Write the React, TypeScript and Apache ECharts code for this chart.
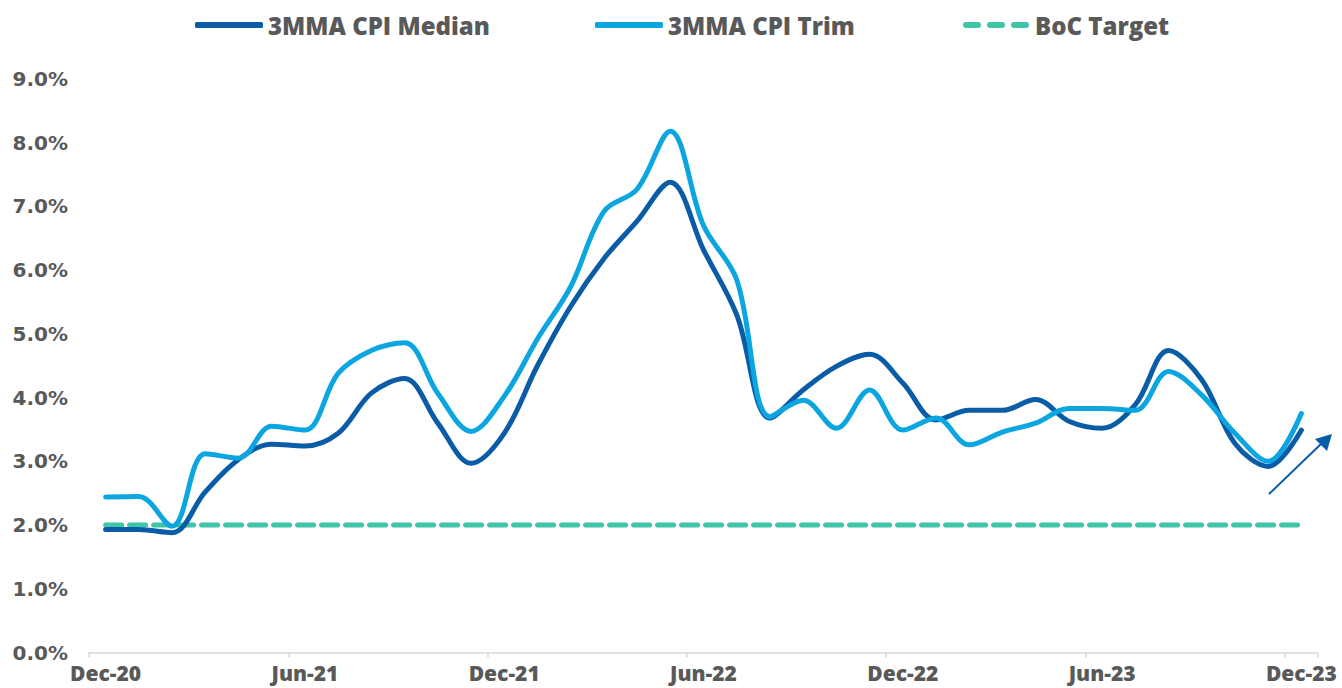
import React, { useEffect, useRef } from "react";
import * as echarts from "echarts";

const categories = [
  "Dec-20", "Jan-21", "Feb-21", "Mar-21", "Apr-21", "May-21", "Jun-21", "Jul-21", "Aug-21", "Sep-21", "Oct-21", "Nov-21",
  "Dec-21", "Jan-22", "Feb-22", "Mar-22", "Apr-22", "May-22", "Jun-22", "Jul-22", "Aug-22", "Sep-22", "Oct-22", "Nov-22",
  "Dec-22", "Jan-23", "Feb-23", "Mar-23", "Apr-23", "May-23", "Jun-23", "Jul-23", "Aug-23", "Sep-23", "Oct-23", "Nov-23",
  "Dec-23",
];

const cpiMedian = [
  1.93, 1.93, 1.88, 2.52, 3.03, 3.27, 3.24, 3.44, 4.07, 4.3, 3.6, 2.97,
  3.44, 4.5, 5.43, 6.18, 6.77, 7.38, 6.32, 5.3, 3.68, 4.12, 4.49, 4.68,
  4.23, 3.65, 3.8, 3.8, 3.97, 3.63, 3.52, 3.89, 4.74, 4.28, 3.28, 2.92,
  3.49,
];

const cpiTrim = [
  2.44, 2.45, 1.98, 3.12, 3.05, 3.55, 3.49, 4.38, 4.74, 4.86, 4.07, 3.47,
  4.02, 4.92, 5.74, 6.92, 7.27, 8.18, 6.7, 5.85, 3.7, 3.96, 3.52, 4.12,
  3.49, 3.68, 3.26, 3.46, 3.6, 3.83, 3.83, 3.8, 4.41, 4.04, 3.44, 3.0,
  3.75,
];

const bocTarget = categories.map(() => 2.0);

const C_MEDIAN = "#0A5CA6";
const C_TRIM = "#0BA5E0";
const C_TARGET = "#3EC4A6";
const C_TEXT = "#595959";

const DASH_ICON =
  "path://M3,0h12a3,3 0 0 1 0,6h-12a3,3 0 0 1 0,-6z M27,0h12a3,3 0 0 1 0,6h-12a3,3 0 0 1 0,-6z M51,0h12a3,3 0 0 1 0,6h-12a3,3 0 0 1 0,-6z";

export default function App() {
  const ref = useRef<HTMLDivElement>(null);
  useEffect(() => {
    if (!ref.current) return;
    const chart = echarts.init(ref.current, null, { renderer: "svg" });
    const legendText = {
      fontFamily: "Open Sans",
      fontWeight: 800,
      fontSize: 24,
      color: C_TEXT,
    };
    const legendBase = {
      top: 8,
      itemWidth: 68,
      itemHeight: 6,
      textStyle: legendText,
      selectedMode: false,
    };
    chart.setOption({
      animation: false,
      backgroundColor: "#ffffff",
      legend: [
        { ...legendBase, left: 190, data: [{ name: "3MMA CPI Median", icon: "roundRect" }] },
        { ...legendBase, left: 590, data: [{ name: "3MMA CPI Trim", icon: "roundRect" }] },
        { ...legendBase, left: 958, data: [{ name: "BoC Target", icon: DASH_ICON }] },
      ],
      grid: { left: 89, right: 24, top: 79, bottom: 35.5, containLabel: false },
      xAxis: {
        type: "category",
        data: categories,
        boundaryGap: true,
        axisLine: { lineStyle: { color: "#d9d9d9", width: 1.5 } },
        axisTick: { show: true, interval: 5, length: 5, lineStyle: { color: "#d9d9d9", width: 1.5 } },
        axisLabel: {
          interval: 5,
          margin: 10,
          color: C_TEXT,
          fontFamily: "Open Sans",
          fontWeight: 800,
          fontSize: 21,
        },
        splitLine: { show: false },
      },
      yAxis: {
        type: "value",
        min: 0,
        max: 9,
        interval: 1,
        axisLine: { show: false },
        axisTick: { show: false },
        splitLine: { show: false },
        axisLabel: {
          margin: 21,
          color: C_TEXT,
          fontFamily: "DejaVu Sans",
          fontWeight: "bold",
          fontSize: 20,
          formatter: (v: number) => v.toFixed(1) + "%",
        },
      },
      series: [
        {
          name: "BoC Target",
          type: "line",
          data: bocTarget,
          symbol: "none",
          z: 1,
          lineStyle: { color: C_TARGET, width: 5, type: [16, 8], cap: "round" },
          itemStyle: { color: C_TARGET },
        },
        {
          name: "3MMA CPI Median",
          type: "line",
          data: cpiMedian,
          symbol: "none",
          smooth: 0.35,
          z: 2,
          lineStyle: { color: C_MEDIAN, width: 5, cap: "round" },
          itemStyle: { color: C_MEDIAN },
        },
        {
          name: "3MMA CPI Trim",
          type: "line",
          data: cpiTrim,
          symbol: "none",
          smooth: 0.35,
          z: 3,
          lineStyle: { color: C_TRIM, width: 5, cap: "round" },
          itemStyle: { color: C_TRIM },
        },
      ],
      graphic: [
        {
          type: "line",
          shape: { x1: 1269, y1: 494, x2: 1322, y2: 443 },
          style: { stroke: C_MEDIAN, lineWidth: 2 },
          z: 10,
        },
        {
          type: "polygon",
          shape: { points: [[1332, 434], [1315, 439], [1327, 451]] },
          style: { fill: C_MEDIAN },
          z: 10,
        },
      ],
    });
    return () => chart.dispose();
  }, []);
  return (
    <div
      ref={ref}
      style={{ position: "fixed", left: 0, top: 0, width: 1342, height: 688, background: "#fff" }}
    />
  );
}
